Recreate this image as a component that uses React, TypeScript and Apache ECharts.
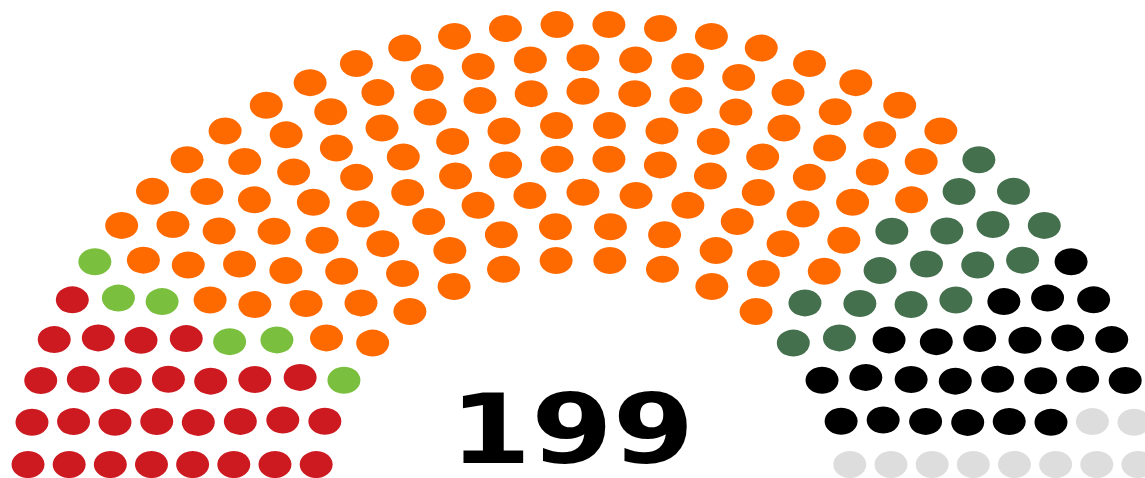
import React, { useEffect, useRef } from "react";
import * as echarts from "echarts";

// Parties in seating order, left to right
const partyNames = ["Red", "Light green", "Orange", "Dark green", "Black", "Grey"];
const partySeats = [28, 6, 114, 17, 24, 10];
const partyColors = ["#CC1A20", "#7BBF3F", "#FF6A00", "#44704E", "#000000", "#DDDDDD"];
const totalLabel = "199";

// Cumulative capacities used by the standard parliament-arch layout
const rowTotals = [3, 15, 33, 61, 95, 138, 189, 247, 315, 393, 480, 577, 687, 805, 937, 1080];

function seatPositions(total: number): [number, number, number][] {
  let rows = rowTotals.findIndex((t) => t >= total) + 1;
  if (rows <= 0) rows = rowTotals.length;
  const radius = 0.4 / rows;
  const pos: [number, number, number][] = [];
  for (let i = 1; i < rows; i++) {
    const J = Math.floor(
      (total / rowTotals[rows - 1]) * (Math.PI / (2 * Math.asin(2 / (3 * rows + 4 * i - 2))))
    );
    const R = (3 * rows + 4 * i - 2) / (4 * rows);
    if (J === 1) {
      pos.push([Math.PI / 2, 0, R]);
    } else {
      for (let j = 0; j < J; j++) {
        const a = (j * (Math.PI - 2 * Math.sin(radius / R))) / (J - 1) + Math.sin(radius / R);
        pos.push([a, R * Math.cos(a), R * Math.sin(a)]);
      }
    }
  }
  const R = (7 * rows - 2) / (4 * rows);
  const J = total - pos.length;
  for (let j = 0; j < J; j++) {
    const a = (j * (Math.PI - 2 * Math.sin(radius / R))) / (J - 1) + Math.sin(radius / R);
    pos.push([a, R * Math.cos(a), R * Math.sin(a)]);
  }
  pos.sort((p, q) => q[0] - p[0]);
  return pos;
}

export default function App() {
  const ref = useRef<HTMLDivElement>(null);
  useEffect(() => {
    if (!ref.current) return;
    const chart = echarts.init(ref.current, null, { renderer: "svg" });
    const total = partySeats.reduce((a, b) => a + b, 0);
    const pos = seatPositions(total);
    let k = 0;
    const series = partySeats.map((n, idx) => {
      const data: number[][] = [];
      for (let s = 0; s < n; s++) {
        const p = pos[k++];
        data.push([p[1], p[2]]);
      }
      return {
        type: "scatter",
        name: partyNames[idx],
        data,
        symbol: "circle",
        symbolSize: [33, 27],
        clip: false,
        itemStyle: { color: partyColors[idx], opacity: 1 },
        silent: true,
      };
    });
    const cx = 583, cy = 478, sx = 329, sy = 269;
    chart.setOption({
      animation: false,
      grid: { left: 0, right: 0, top: 0, bottom: 0 },
      xAxis: { type: "value", min: -cx / sx, max: (1145 - cx) / sx, show: false },
      yAxis: { type: "value", min: 0, max: cy / sy, show: false },
      series,
      graphic: [
        {
          type: "text",
          x: 572,
          y: 430,
          scaleX: 1.22,
          style: {
            text: totalLabel,
            fontFamily: "DejaVu Sans",
            fontWeight: "bold",
            fontSize: 96,
            fill: "#000",
            align: "center",
            verticalAlign: "middle",
          },
        },
      ],
    });
    return () => chart.dispose();
  }, []);
  return (
    <div
      ref={ref}
      style={{ position: "absolute", left: 0, top: 0, width: 1145, height: 478, background: "#fff" }}
    />
  );
}
